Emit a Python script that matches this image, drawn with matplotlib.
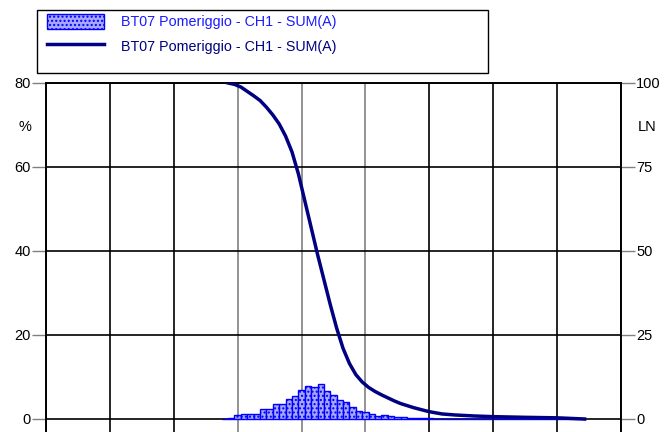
import matplotlib
matplotlib.use("Agg")
import matplotlib.pyplot as plt
from matplotlib.patches import Rectangle, Patch
from matplotlib.lines import Line2D

plt.rcParams['font.family'] = ['Liberation Sans', 'DejaVu Sans']

label = "BT07 Pomeriggio - CH1 - SUM(A)"

# istogramma (%), classi centrate sugli interi
bin_pos = list(range(28, 85))
bin_pct = [0.05, 0.3, 0.87, 1.27, 1.27, 1.27, 2.3, 2.5, 3.65, 3.65,
           4.7, 5.5, 6.9, 7.9, 7.6, 8.25, 6.7, 5.7, 4.5, 4.1,
           2.9, 1.9, 1.6, 1.1, 0.8, 0.87, 0.63, 0.48, 0.4, 0.32,
           0.32, 0.3, 0.15, 0.1] + [0.02] * 23

# curva LN (asse destro)
curve_x = [28.5, 29.5, 30.5, 31.5, 32.5, 33.5, 34.5, 35.5, 36.5, 37.5,
           38.5, 39.5, 40.5, 41.5, 42.5, 43.5, 44.5, 45.5, 46.5, 47.5,
           48.5, 49.5, 50.5, 51.5, 52.5, 53.5, 54.5, 55.5, 56.5, 57.5,
           58.5, 59.5, 60.5, 62, 64, 67, 70, 75, 80, 84.3]
curve_ln = [100, 99.6, 98.8, 97.5, 96.2, 94.8, 92.8, 90.5, 87.8, 84.2,
            79.5, 73, 65, 57, 49, 41.5, 34, 27, 21, 16.5,
            13.2, 11, 9.4, 8.2, 7.2, 6.3, 5.4, 4.6, 4.0, 3.4,
            2.9, 2.4, 2.0, 1.5, 1.2, 0.9, 0.7, 0.5, 0.35, 0.0]

W, H = 665, 432
fig = plt.figure(figsize=(W / 100, H / 100), dpi=100)

# l'area del grafico prosegue sotto il bordo dell'immagine
ax_bottom_px = 450
ax = fig.add_axes([46 / W, 1 - ax_bottom_px / H, (621 - 46) / W, (ax_bottom_px - 83) / H])
ax.set_xlim(0, 90)
ax.set_ylim(-(ax_bottom_px - 419) / 336 * 80, 80)

ax.bar(bin_pos, bin_pct, width=1.0, color='#a8a8ff', edgecolor='#0000ff',
       hatch='....', linewidth=1.0, zorder=3)

ax.set_xticks(range(0, 91, 10))
ax.set_yticks([0, 20, 40, 60, 80])
ax.grid(True, color='black', linewidth=1.2, zorder=1)
for gl, v in zip(ax.xaxis.get_gridlines(), range(0, 91, 10)):
    if v in (30, 40, 50):
        gl.set_color('#808080')
ax.tick_params(axis='x', length=0, labelbottom=False)
ax.tick_params(axis='y', direction='out', length=10, width=1, color='#808080',
               labelsize=10.5, pad=1)
for s in ax.spines.values():
    s.set_color('black')
    s.set_linewidth(1.2)

ax2 = ax.twinx()
ax2.set_ylim(-(ax_bottom_px - 419) / 336 * 100, 100)
ax2.set_yticks([0, 25, 50, 75, 100])
ax2.tick_params(axis='y', direction='out', length=10, width=1, color='#808080',
                labelsize=10.5, pad=1)
ax2.plot(curve_x, curve_ln, color='#000080', linewidth=2.5, zorder=4)
for s in ax2.spines.values():
    s.set_color('black')
    s.set_linewidth(1.2)

fig.text(25 / W, 1 - 127 / H, "%", ha='center', va='center', fontsize=10.5)
fig.text(647 / W, 1 - 127 / H, "LN", ha='center', va='center', fontsize=10.5)

# legenda
fig.patches.append(Rectangle((37 / W, 1 - 73 / H), (488 - 37) / W, 63 / H,
                             transform=fig.transFigure, fill=False,
                             edgecolor='black', linewidth=1.0))
handles = [Patch(facecolor='#a8a8ff', edgecolor='#0000ff', hatch='....', linewidth=1.0),
           Line2D([0], [0], color='#000080', linewidth=2.5)]
leg = fig.legend(handles, [label, label], loc='upper left',
                 bbox_to_anchor=(44 / W, 1 - 11 / H), frameon=False,
                 prop={'size': 10.3},
                 handlelength=4.0, handleheight=1.3, handletextpad=1.2,
                 labelspacing=0.6, borderaxespad=0, borderpad=0.2)
leg.get_texts()[0].set_color('#1a1aff')
leg.get_texts()[1].set_color('#000080')

fig.savefig("out.png", dpi=100)
